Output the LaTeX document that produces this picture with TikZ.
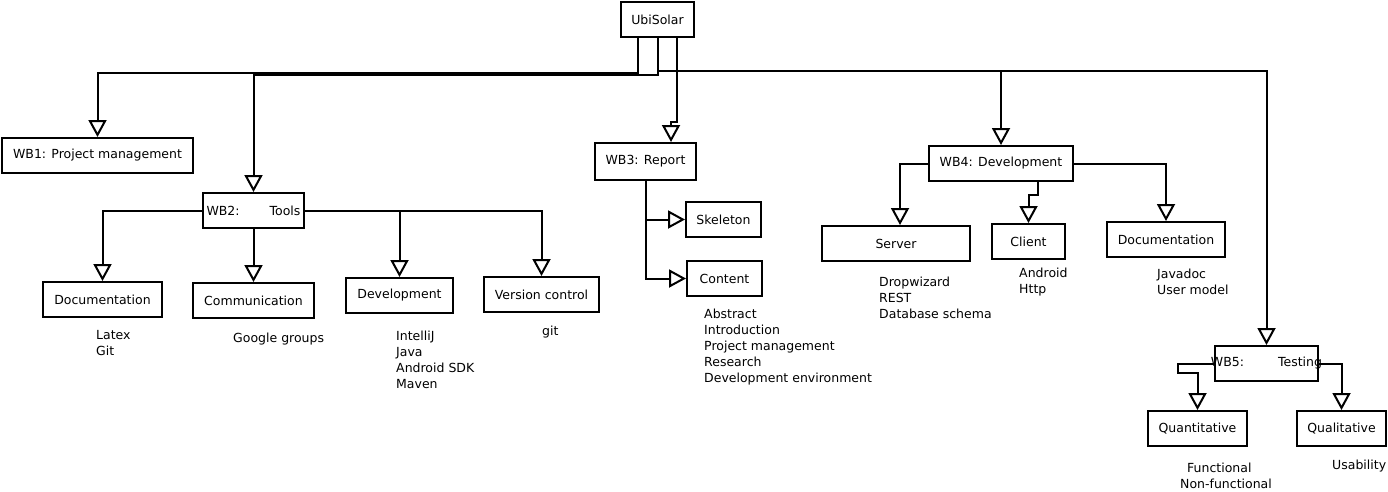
\documentclass[tikz,border=0pt]{standalone}
\usepackage{fontspec}
\setmainfont{DejaVu Sans}
\usetikzlibrary{arrows.meta}
\tikzset{
  box/.style={draw=black, line width=2pt, fill=white, inner sep=0pt, align=center,
    font=\fontsize{12.5}{16}\selectfont},
  conn/.style={draw=black, line width=2pt,
    -{Triangle[open, length=17pt, width=18pt, line width=2pt]}},
  note/.style={anchor=base west, inner sep=0pt, font=\fontsize{12.5}{16}\selectfont}
}
\newcommand{\lines}[1]{\begin{tabular}[t]{@{}l@{}}#1\end{tabular}}
\begin{document}
\begin{tikzpicture}[x=1pt, y=-1pt]
\useasboundingbox (0,0) rectangle (1388,491);
% boxes
\node[box, minimum width=73pt, minimum height=35pt] (ubi) at (657.5,19.5) {UbiSolar};
\node[box, minimum width=191pt, minimum height=35pt] (wb1) at (97.5,155.5) {WB1: Project management};
\node[box, minimum width=101pt, minimum height=35pt] (wb2) at (253.5,210.5) {\makebox[0pt]{WB2:\hspace{30pt}Tools}};
\node[box, minimum width=101pt, minimum height=37pt] (wb3) at (645.5,161.5) {WB3: Report};
\node[box, minimum width=144pt, minimum height=35pt] (wb4) at (1001,163.5) {WB4: Development};
\node[box, minimum width=103pt, minimum height=35pt] (wb5) at (1266.5,363.5) {\makebox[0pt]{WB5:\hspace{34pt}Testing}};
\node[box, minimum width=119pt, minimum height=35pt] (doc2) at (102.5,299.5) {Documentation};
\node[box, minimum width=121pt, minimum height=35pt] (comm) at (253.5,300.5) {Communication};
\node[box, minimum width=107pt, minimum height=35pt] (dev) at (399.5,295.5) {Development};
\node[box, minimum width=115pt, minimum height=35pt] (vc) at (541.5,294.5) {Version control};
\node[box, minimum width=75pt, minimum height=35pt] (skel) at (723.5,219.5) {Skeleton};
\node[box, minimum width=75pt, minimum height=35pt] (cont) at (724.5,278.5) {Content};
\node[box, minimum width=148pt, minimum height=35pt] (server) at (896,243.5) {Server};
\node[box, minimum width=73pt, minimum height=35pt] (client) at (1028.5,241.5) {Client};
\node[box, minimum width=118pt, minimum height=35pt] (doc4) at (1166,239.5) {Documentation};
\node[box, minimum width=99pt, minimum height=35pt] (quant) at (1197.5,428.5) {Quantitative};
\node[box, minimum width=89pt, minimum height=35pt] (qual) at (1341.5,428.5) {Qualitative};
% helper levels
\coordinate (h1) at (0,73);
\coordinate (h2) at (0,74.5);
\coordinate (h4) at (0,71);
% connectors from UbiSolar
\draw[conn] ([xshift=-19.5pt]ubi.south) |- (h1 -| wb1.north) -- (wb1.north);
\draw[conn] (ubi.south) |- (h2 -| wb2.north) -- (wb2.north);
\draw[conn] (ubi.south) |- (h4 -| wb4.north) -- (wb4.north);
\draw[conn] (ubi.south) |- (h4 -| wb5.north) -- (wb5.north);
\draw[conn] ([xshift=19.5pt]ubi.south) -- ++(0,84) -| ([xshift=25.5pt]wb3.north);
% WB2
\draw[conn] (wb2.west) -| (doc2.north);
\draw[conn] (wb2.south) -- (comm.north);
\draw[conn] (wb2.east) -| (dev.north);
\draw[conn] (wb2.east) -| (vc.north);
% WB3
\draw[conn] (wb3.south) |- (skel.west);
\draw[conn] (wb3.south) |- (cont.west);
% WB4
\draw[conn] (wb4.west) -| ([xshift=4pt]server.north);
\draw[conn] ([xshift=37pt]wb4.south) -- ++(0,13) -| (client.north);
\draw[conn] (wb4.east) -| (doc4.north);
% WB5
\draw[conn] (wb5.west) -- ++(-36,0) -- ++(0,9) -| (quant.north);
\draw[conn] (wb5.east) -| (qual.north);
% notes
\node[note] (n1) at (96,339) {\lines{Latex\\Git}};
\node[note] (n2) at (233,342) {Google groups};
\node[note] (n3) at (396,340) {\lines{IntelliJ\\Java\\Android SDK\\Maven}};
\node[note] (n4) at (542,335) {git};
\node[note] (n5) at (704,318) {\lines{Abstract\\Introduction\\Project management\\Research\\Development environment}};
\node[note] (n6) at (879,286) {\lines{Dropwizard\\REST\\Database schema}};
\node[note] (n7) at (1019,277) {\lines{Android\\Http}};
\node[note] (n8) at (1157,278) {\lines{Javadoc\\User model}};
\node[note] (n9) at (1180,472) {\lines{\hspace{7pt}Functional\\Non-functional}};
\node[note] (n10) at (1332,469) {Usability};
\end{tikzpicture}
\end{document}
